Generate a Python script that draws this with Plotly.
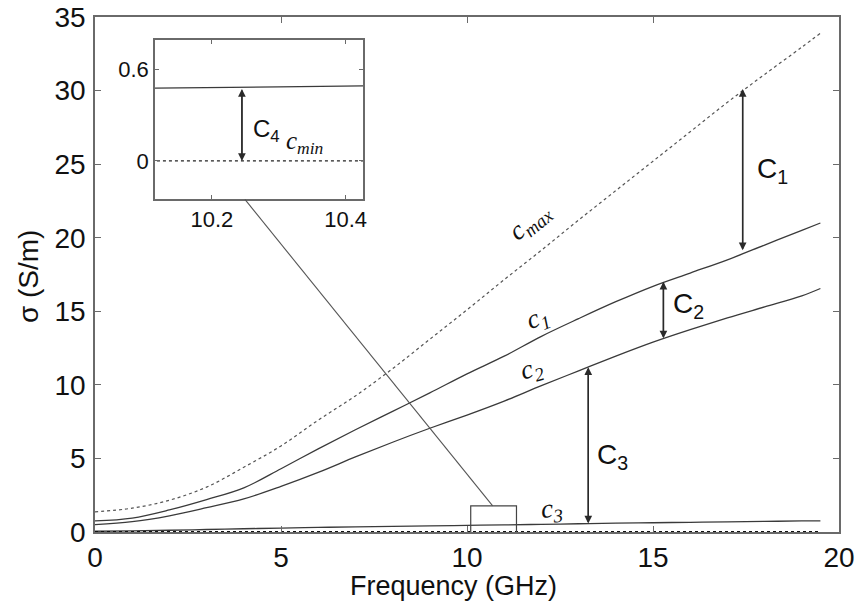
import plotly.graph_objects as go

# ---------------- data ----------------
freq = [0, 1, 2, 3, 4, 5, 6, 7, 8, 9, 10, 11, 12, 13, 14, 15, 16, 17, 18, 19, 19.5]
c_max = [1.37, 1.62, 2.16, 3.05, 4.4, 5.85, 7.6, 9.25, 11.1, 13.1, 15.1, 17.15, 19.15,
         21.2, 23.2, 25.2, 27.2, 29.2, 31.1, 32.95, 33.9]
c_1 = [0.75, 0.95, 1.5, 2.2, 3.0, 4.3, 5.65, 6.95, 8.2, 9.45, 10.75, 11.95, 13.3,
       14.5, 15.65, 16.7, 17.6, 18.5, 19.5, 20.5, 21.0]
c_2 = [0.5, 0.7, 1.1, 1.65, 2.25, 3.1, 4.05, 5.1, 6.1, 7.05, 7.95, 8.9, 9.95,
       10.95, 11.95, 12.9, 13.75, 14.55, 15.3, 16.05, 16.55]
c_3 = [0.05, 0.08, 0.12, 0.17, 0.22, 0.27, 0.31, 0.35, 0.38, 0.42, 0.45, 0.48, 0.52,
       0.56, 0.6, 0.63, 0.66, 0.69, 0.72, 0.75, 0.76]
c_min = [0.02] * len(freq)

inset_freq = [10.1, 10.2, 10.3, 10.43]
inset_c3 = [0.475, 0.478, 0.484, 0.49]
inset_cmin = [0.0, 0.0, 0.0, 0.0]

x_ticks = [0, 5, 10, 15, 20]
y_ticks = [0, 5, 10, 15, 20, 25, 30, 35]
inset_x_ticks = [10.2, 10.4]
inset_y_ticks = [0, 0.6]

# arrows: (x, y_top, y_bottom)
arrow_c1 = (17.41, 30.1, 19.15)
arrow_c2 = (15.28, 17.0, 13.16)
arrow_c3 = (13.26, 11.19, 0.58)
arrow_c4 = (10.245, 0.47, 0.0)

# ---------------- styling ----------------
LINE = "#3a3a3a"
AXIS = "#6a6a6a"
TXT = "#111111"
SANS = "Liberation Sans, Arial, sans-serif"
SERIF = "Liberation Serif, DejaVu Serif, serif"

fig = go.Figure()

fig.add_trace(go.Scatter(x=freq, y=c_max, mode="lines",
                         line=dict(color="#555555", width=1.2, dash="dot", shape="spline")))
fig.add_trace(go.Scatter(x=freq, y=c_1, mode="lines",
                         line=dict(color=LINE, width=1.3, shape="spline")))
fig.add_trace(go.Scatter(x=freq, y=c_2, mode="lines",
                         line=dict(color=LINE, width=1.3, shape="spline")))
fig.add_trace(go.Scatter(x=freq, y=c_3, mode="lines",
                         line=dict(color=LINE, width=1.3, shape="spline")))
fig.add_trace(go.Scatter(x=freq, y=c_min, mode="lines",
                         line=dict(color="#111111", width=1.6, dash="dot")))

fig.add_trace(go.Scatter(x=inset_freq, y=inset_c3, mode="lines",
                         line=dict(color=LINE, width=1.3), xaxis="x2", yaxis="y2"))
fig.add_trace(go.Scatter(x=inset_freq, y=inset_cmin, mode="lines",
                         line=dict(color="#222222", width=1.3, dash="dot"),
                         xaxis="x2", yaxis="y2"))

axis_common = dict(showline=True, linecolor=AXIS, linewidth=1.6, mirror="ticks",
                   ticks="inside", tickcolor=AXIS, showgrid=False,
                   zeroline=False, automargin=False)

fig.update_layout(
    width=859, height=608,
    margin=dict(l=95, r=20, t=17, b=76),
    paper_bgcolor="white", plot_bgcolor="white",
    showlegend=False,
    font=dict(family=SANS, color=TXT),
    xaxis=dict(range=[0, 20], tickvals=x_ticks, tickfont=dict(size=28),
               ticklen=6, ticklabelstandoff=0, **axis_common),
    yaxis=dict(range=[0, 35], tickvals=y_ticks, tickfont=dict(size=28),
               ticklen=6, ticklabelstandoff=2, **axis_common),
    xaxis2=dict(domain=[0.0806, 0.3602], anchor="y2", range=[10.115, 10.426],
                tickvals=inset_x_ticks, ticktext=["10.2", "10.4"],
                tickfont=dict(size=22), ticklen=4, **axis_common),
    yaxis2=dict(domain=[0.6466, 0.9553], anchor="x2", range=[-0.249, 0.79],
                tickvals=inset_y_ticks, ticktext=["0", "0.6"],
                tickfont=dict(size=22), ticklen=4, **axis_common),
)

# zoom box and connector line
fig.add_shape(type="rect", xref="x", yref="y", x0=10.1, x1=11.33, y0=-0.29, y1=1.78,
              line=dict(color="#444444", width=1.2), layer="above")
fig.add_shape(type="line", xref="x", yref="y", x0=10.69, y0=1.78, x1=4.03, y1=22.6,
              line=dict(color="#555555", width=1.1))

ann = []

def darrow(a, xr, yr):
    x, yt, yb = a
    for (y0, y1) in [(yt, yb), (yb, yt)]:
        ann.append(dict(x=x, y=y0, ax=x, ay=y1, xref=xr, yref=yr, axref=xr, ayref=yr,
                        text="", showarrow=True, arrowhead=2, arrowsize=1.1,
                        arrowwidth=1.4, arrowcolor="#2a2a2a", standoff=0,
                        startstandoff=0))

darrow(arrow_c1, "x", "y")
darrow(arrow_c2, "x", "y")
darrow(arrow_c3, "x", "y")
darrow(arrow_c4, "x2", "y2")

def lbl(text, x, y, size, xr="x", yr="y", font=SANS, angle=0):
    ann.append(dict(text=text, x=x, y=y, xref=xr, yref=yr, showarrow=False,
                    textangle=angle, font=dict(family=font, size=size, color=TXT)))

lbl("C<sub>1</sub>", 18.2, 24.6, 28)
lbl("C<sub>2</sub>", 15.95, 15.4, 28)
lbl("C<sub>3</sub>", 13.9, 5.1, 28)
lbl("C<sub>4</sub>", 10.282, 0.2, 24, "x2", "y2")

lbl("<i>c<sub>max</sub></i>", 11.69, 21.07, 27, font=SERIF, angle=-40)
lbl("<i>c<sub>1</sub></i>", 11.9, 14.5, 27, font=SERIF, angle=-22)
lbl("<i>c<sub>2</sub></i>", 11.74, 11.0, 27, font=SERIF, angle=-16)
lbl("<i>c<sub>3</sub></i>", 12.28, 1.5, 27, font=SERIF, angle=-5)
lbl("<i>c<sub>min</sub></i>", 10.34, 0.12, 25, "x2", "y2", font=SERIF)

# axis titles
ann.append(dict(text="Frequency (GHz)", x=0.4825, y=-0.104, xref="paper", yref="paper",
                showarrow=False, xanchor="center", yanchor="middle",
                font=dict(family=SANS, size=27, color=TXT)))
ann.append(dict(text="σ (S/m)", x=-0.09, y=0.497, xref="paper", yref="paper",
                showarrow=False, xanchor="center", yanchor="middle", textangle=-90,
                font=dict(family=SANS, size=28, color=TXT)))

fig.update_layout(annotations=ann)

fig.write_html("out.html")
